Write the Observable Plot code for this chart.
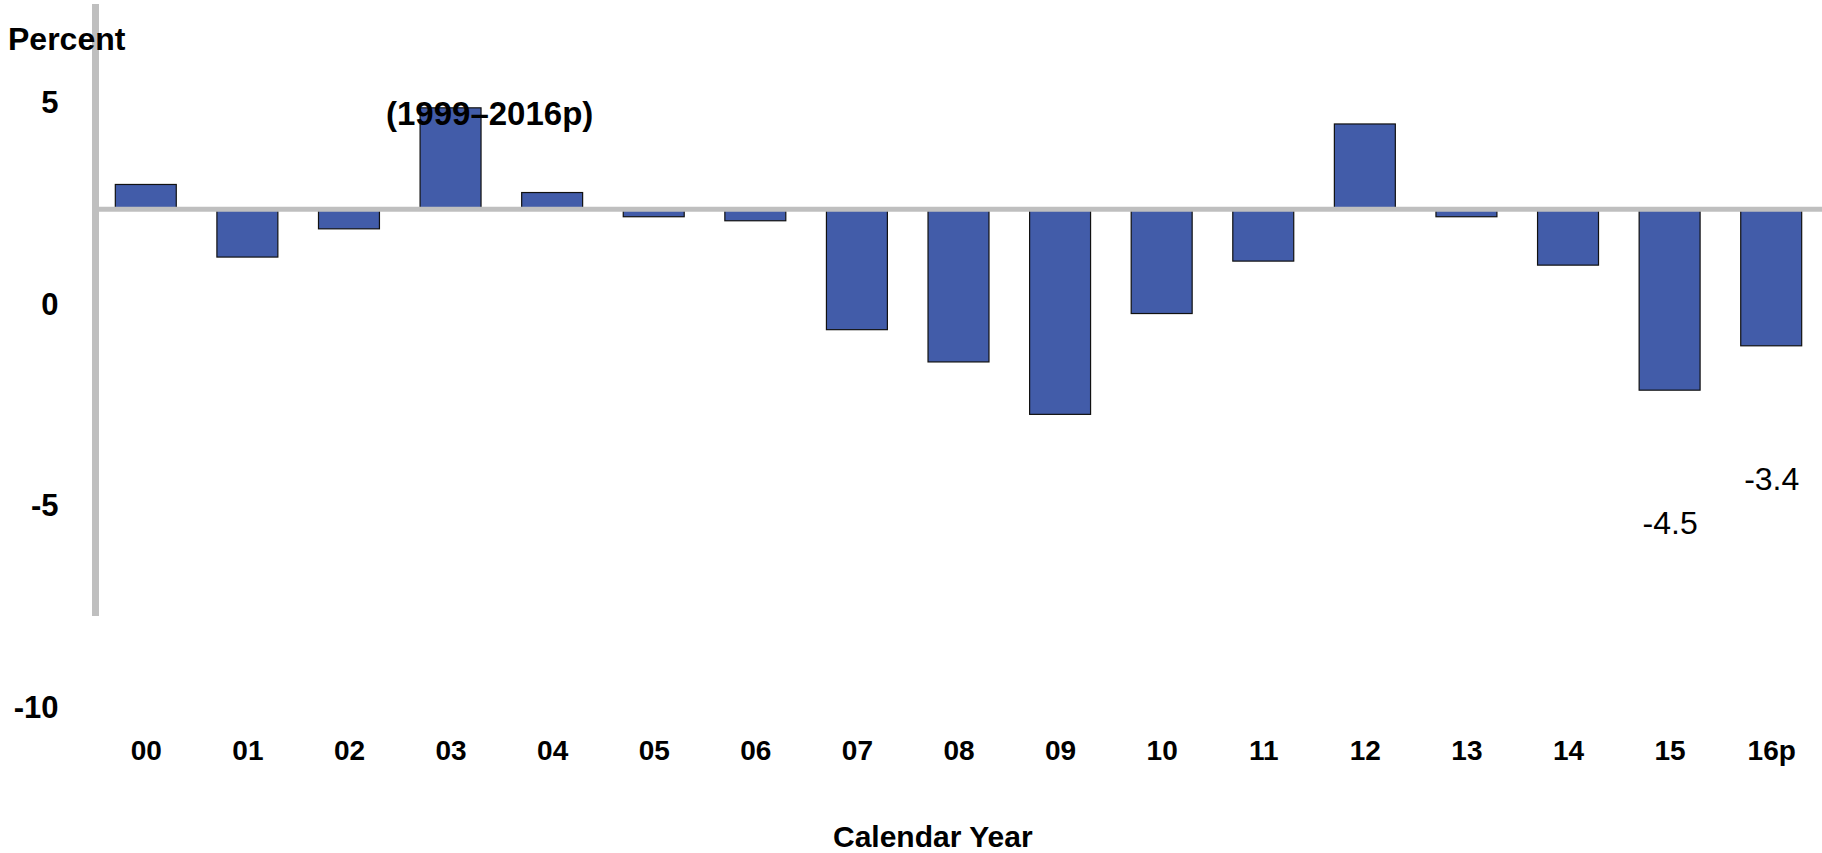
<!DOCTYPE html>
<html>
<head>
<meta charset="utf-8">
<script src="https://cdn.jsdelivr.net/npm/d3@7"></script>
<script src="https://cdn.jsdelivr.net/npm/@observablehq/plot@0.6"></script>
<style>
  html, body { margin: 0; padding: 0; background: white; }
  #wrap { position: relative; width: 1822px; height: 853px; overflow: hidden; font-family: 'Liberation Sans', Arial, sans-serif; color: black; }
  #wrap svg { position: absolute; left: 0; top: 0; }
  .ov { position: absolute; white-space: nowrap; font-weight: bold; }
</style>
</head>
<body>
<div id="wrap">
  <div class="ov" style="left:8px; top:23px; font-size:32px; line-height:32px;">Percent</div>
  <div class="ov" style="left:386px; top:97px; font-size:33px; line-height:33px; z-index:2;">(1999–2016p)</div>
  <div class="ov" style="left:833px; top:822px; font-size:30px; line-height:30px;">Calendar Year</div>
</div>
<script>
// Chart data
const years = ["00","01","02","03","04","05","06","07","08","09","10","11","12","13","14","15","16p"];
const values = [0.6, -1.2, -0.5, 2.5, 0.4, -0.2, -0.3, -3.0, -3.8, -5.1, -2.6, -1.3, 2.1, -0.2, -1.4, -4.5, -3.4];
const labeledYears = ["15", "16p"];
const yTickValues = [5, 0, -5, -10];
// In the original, the y tick labels are drawn shifted down relative to the bars
const yLabelShift = 2.37;

const data = years.map((year, i) => ({year, value: values[i]}));

const chart = Plot.plot({
  width: 1822,
  height: 853,
  marginTop: 7,
  marginBottom: 241,
  marginLeft: 95,
  marginRight: 0,
  style: {fontFamily: "'Liberation Sans', Arial, sans-serif", background: "transparent", overflow: "visible", color: "black"},
  x: {domain: years, paddingInner: 0.4, paddingOuter: 0.2, round: false, axis: null},
  y: {domain: [-10, 5], axis: null},
  marks: [
    Plot.barY(data, {x: "year", y: "value", fill: "#425CA9", stroke: "#111111", strokeWidth: 1.2}),
    Plot.ruleY([0], {stroke: "#BFBFBF", strokeWidth: 5}),
    Plot.frame({anchor: "left", stroke: "#BFBFBF", strokeWidth: 7}),
    Plot.axisX({tickSize: 0, tickPadding: 128, fontSize: 28, fontWeight: "bold", label: null}),
    Plot.axisY({
      ticks: yTickValues.map(v => v - yLabelShift),
      tickFormat: d => String(Math.round(d + yLabelShift)),
      tickSize: 0, tickPadding: 37, fontSize: 31, fontWeight: "bold", label: null
    }),
    Plot.text(data.filter(d => labeledYears.includes(d.year)), {
      x: "year", y: "value", text: d => d.value.toFixed(1), dy: 133, fontSize: 32, fill: "black"
    })
  ]
});
document.getElementById("wrap").prepend(chart);
</script>
</body>
</html>
